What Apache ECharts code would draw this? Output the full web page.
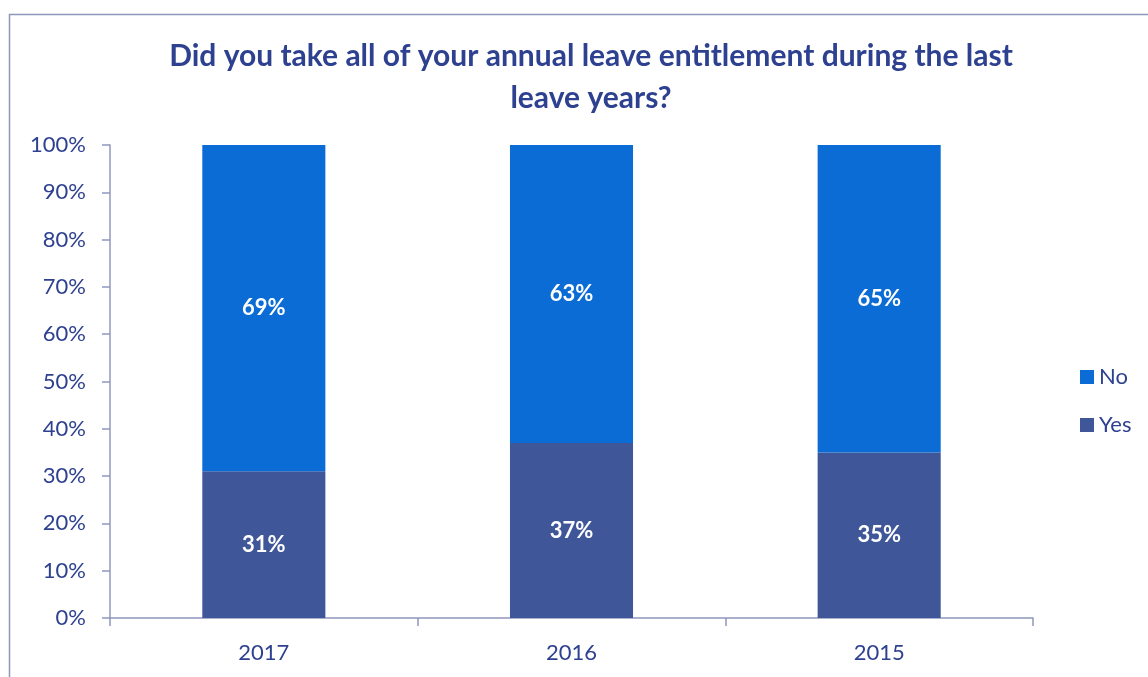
<!DOCTYPE html>
<html>
<head>
<meta charset="utf-8">
<script src="https://cdn.jsdelivr.net/npm/echarts@6/dist/echarts.min.js"></script>
<style>
  html, body { margin: 0; padding: 0; background: #fff; }
  #chart { width: 1148px; height: 677px; }
</style>
</head>
<body>
<div id="chart"></div>
<script>
// Leave survey: share of staff who did / did not take full annual leave
const years = ['2017', '2016', '2015'];
const yesValues = [31, 37, 35];
const noValues = [69, 63, 65];
const yTicks = ['0%', '10%', '20%', '30%', '40%', '50%', '60%', '70%', '80%', '90%', '100%'];

const textColor = '#2E4190';
const lineColor = '#9097BC';
const font = 'Lato, "Open Sans", sans-serif';

const chart = echarts.init(document.getElementById('chart'));

const labelStyle = {
  show: true,
  position: 'inside',
  color: '#fff',
  fontWeight: 'bold',
  fontSize: 22,
  fontFamily: font,
  formatter: p => p.value + '%'
};

chart.setOption({
  animation: false,
  title: {
    text: 'Did you take all of your annual leave entitlement during the last\nleave years?',
    left: 586,
    textAlign: 'center',
    top: 30,
    textStyle: {
      color: textColor,
      fontSize: 30,
      fontWeight: 'bold',
      fontFamily: font,
      lineHeight: 42
    }
  },
  graphic: [{
    type: 'rect',
    shape: { x: 9.5, y: 14.5, width: 1160, height: 700 },
    style: { fill: 'none', stroke: lineColor, lineWidth: 1.5 },
    silent: true
  }],
  legend: {
    orient: 'vertical',
    left: 1075,
    top: 361,
    itemGap: 26,
    itemWidth: 14,
    itemHeight: 14,
    icon: 'rect',
    data: ['No', 'Yes'],
    textStyle: { color: textColor, fontSize: 22, fontFamily: font }
  },
  grid: { left: 110, right: 115, top: 145, bottom: 59 },
  xAxis: {
    type: 'category',
    data: years,
    axisLine: { lineStyle: { color: lineColor, width: 1.5 } },
    axisTick: { show: true, length: 8, lineStyle: { color: lineColor, width: 1.5 } },
    axisLabel: { color: textColor, fontSize: 22, fontFamily: font, margin: 24 }
  },
  yAxis: {
    type: 'value',
    min: 0,
    max: 100,
    interval: 10,
    axisLine: { show: true, lineStyle: { color: lineColor, width: 1.5 } },
    axisTick: { show: true, length: 8, lineStyle: { color: lineColor, width: 1.5 } },
    splitLine: { show: false },
    axisLabel: {
      color: textColor, fontSize: 22, fontFamily: font, margin: 24,
      formatter: v => yTicks[Math.round(v / 10)]
    }
  },
  series: [
    {
      name: 'Yes',
      type: 'bar',
      stack: 'total',
      data: yesValues,
      barWidth: '40%',
      itemStyle: { color: '#3F5699' },
      label: labelStyle
    },
    {
      name: 'No',
      type: 'bar',
      stack: 'total',
      data: noValues,
      barWidth: '40%',
      itemStyle: { color: '#0B6CD5' },
      label: labelStyle
    }
  ]
});
</script>
</body>
</html>
